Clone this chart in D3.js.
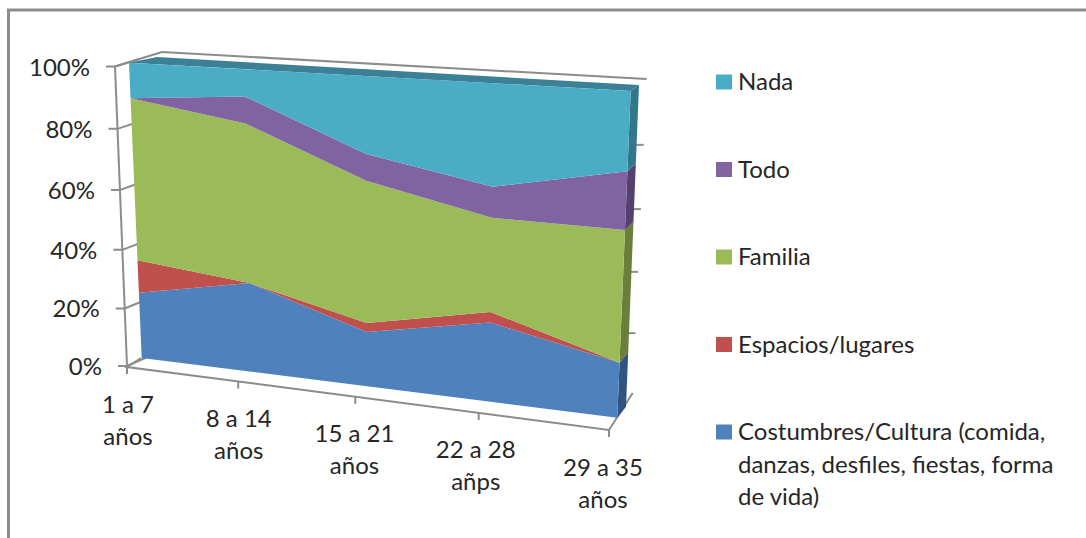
<!DOCTYPE html>
<html>
<head>
<meta charset="utf-8">
<script src="https://cdn.jsdelivr.net/npm/d3@7"></script>
<style>
  body { margin: 0; background: #fff; }
  svg { display: block; }
  text { font-family: Lato, "Open Sans", sans-serif; fill: #262626; font-size: 24px; }
</style>
</head>
<body>
<div id="datavis"></div>
<script>
// data (% of each age group)
let categories = ["1 a 7 años", "8 a 14 años", "15 a 21 años", "22 a 28 añps", "29 a 35 años"]
let costumbres = [23, 30.4, 18.3, 25.9, 17.6]
let espacios = [11.2, 0, 3, 3.4, 0]
let familia = [54.3, 52.4, 46.1, 29.8, 41.2]
let todo = [0, 8.6, 8.5, 9.6, 17.7]
let nada = [11.5, 8.6, 24.1, 31.3, 23.5]
let seriesNames = ["Costumbres/Cultura (comida, danzas, desfiles, fiestas, forma de vida)", "Espacios/lugares", "Familia", "Todo", "Nada"]
let seriesValues = [costumbres, espacios, familia, todo, nada]
let yTicks = [0, 20, 40, 60, 80, 100]

let colors = ["#4f81bd", "#c0504d", "#9bbb59", "#8064a2", "#4bacc6"]
let sideColors = ["#30537f", "#823432", "#697f3a", "#54416f", "#33778a"]
let topColor = "#3b8096"
let axisColor = "#8c8c8c"

let width = 1086
    height = 538

let svg = d3.select('#datavis')
    .append('svg')
        .attr('width', width)
        .attr('height', height)

// square -> quad projection, this is what fakes the excel 3d look
function quad(tl, tr, br, bl) {
  let dx1 = tr[0] - br[0], dx2 = bl[0] - br[0], sx = tl[0] - tr[0] + br[0] - bl[0]
  let dy1 = tr[1] - br[1], dy2 = bl[1] - br[1], sy = tl[1] - tr[1] + br[1] - bl[1]
  let den = dx1 * dy2 - dx2 * dy1
  let g = (sx * dy2 - dx2 * sy) / den
  let h = (dx1 * sy - sx * dy1) / den
  let a = tr[0] - tl[0] + g * tr[0], b = bl[0] - tl[0] + h * bl[0]
  let d = tr[1] - tl[1] + g * tr[1], e = bl[1] - tl[1] + h * bl[1]
  return function(u, v) {
    let w = g * u + h * v + 1
    return [(a * u + b * v + tl[0]) / w, (d * u + e * v + tl[1]) / w]
  }
}

function lerp(a, b, t) { return [a[0] + (b[0] - a[0]) * t, a[1] + (b[1] - a[1]) * t] }

let xScale = d3.scalePoint().domain(categories).range([0, 1])
let yScale = d3.scaleLinear().domain([0, 100]).range([1, 0])

let front = quad([129, 62.7], [630.7, 91], [617.3, 417.7], [141.7, 358])
let back = quad([157, 57], [639, 85], [626, 406.7], [168, 349])
let backWall = quad([162, 52], [646.7, 79], [632.7, 393], [175, 345])

// the axes are not on the front plane but they keep its spacing
function leftAxis(d) {
  let a = front(0, 0)[1], b = front(0, 1)[1]
  return lerp([115, 66.5], [127, 366], (front(0, yScale(d))[1] - a) / (b - a))
}
function floorLine(c) {
  let a = front(0, 1)[0], b = front(1, 1)[0]
  return lerp([127, 367], [609, 430], (front(xScale(c), 1)[0] - a) / (b - a))
}

let rows = categories.map((c, i) => {
  let row = {cat: c}
  seriesNames.forEach((s, j) => { row[s] = seriesValues[j][i] })
  return row
})
let stacked = d3.stack().keys(seriesNames)(rows)

let line = d3.line()

let axes = svg.append('g')
    .attr('fill', 'none')
    .attr('stroke', axisColor)
    .attr('stroke-width', 2)

// frame round the chart
svg.append('path')
    .attr('d', line([[8.5, height], [8.5, 10], [width, 10]]))
    .attr('fill', 'none')
    .attr('stroke', axisColor)
    .attr('stroke-width', 3)

// left axis + wall stubs
axes.append('path').attr('d', line([leftAxis(100), leftAxis(0)]))
axes.append('path').attr('d', line([leftAxis(100), backWall(0, 0)]))
axes.selectAll('.ystub')
  .data(yTicks)
  .enter()
  .append('path')
    .attr('d', d => {
      let p = leftAxis(d)
      return line([[p[0] - 9, p[1]], p, lerp(p, backWall(0, yScale(d)), 0.5)])
    })

// back wall top edge and the stubs on its right side
axes.append('path').attr('d', line([backWall(0, 0), backWall(1, 0)]))
axes.selectAll('.rstub')
  .data(yTicks.slice(1, -1))
  .enter()
  .append('path')
    .attr('d', d => {
      let p = backWall(1, yScale(d))
      return line([[p[0] - 14, p[1]], p])
    })

// floor
axes.append('path').attr('d', line([[141, 358], [127, 367], [609, 430], backWall(1, 1)]))
axes.selectAll('.xtick')
  .data(categories)
  .enter()
  .append('path')
    .attr('d', d => {
      let p = floorLine(d)
      return line([p, [p[0], p[1] + 7]])
    })

// right side of the solid, one piece per series
svg.selectAll('.side')
  .data(stacked)
  .enter()
  .append('path')
    .attr('fill', (d, i) => sideColors[i])
    .attr('d', d => {
      let last = d[d.length - 1]
      let y0 = yScale(last[0]), y1 = yScale(last[1])
      return line([front(1, y0), back(1, y0), back(1, y1), front(1, y1)]) + 'Z'
    })

// top of the solid
svg.append('path')
    .attr('fill', topColor)
    .attr('d', line([front(0, 0), back(0, 0), back(1, 0), front(1, 0)]) + 'Z')

// front faces
let area = d3.area()
  .x0(d => front(xScale(d.data.cat), yScale(d[0]))[0])
  .y0(d => front(xScale(d.data.cat), yScale(d[0]))[1])
  .x1(d => front(xScale(d.data.cat), yScale(d[1]))[0])
  .y1(d => front(xScale(d.data.cat), yScale(d[1]))[1])

svg.selectAll('.layer')
  .data(stacked)
  .enter()
  .append('path')
    .attr('d', area)
    .attr('fill', (d, i) => colors[i])

// y labels
svg.selectAll('.ylabel')
  .data(yTicks)
  .enter()
  .append('text')
    .text(d => d + '%')
    .attr('x', d => leftAxis(d)[0] - 25)
    .attr('y', d => leftAxis(d)[1] + 9)
    .attr('text-anchor', 'end')

// x labels, two lines each
svg.selectAll('.xlabel')
  .data(categories)
  .enter()
  .append('text')
    .attr('text-anchor', 'middle')
    .each(function(d) {
      let p = floorLine(d)
      let u = xScale(d)
      let words = d.split(' ')
      let lines = [words.slice(0, -1).join(' '), words[words.length - 1]]
      d3.select(this).selectAll('tspan')
        .data(lines)
        .enter()
        .append('tspan')
          .attr('x', p[0] + 1 - 7 * u * u)
          .attr('y', (l, i) => p[1] + 45.5 + i * 32)
          .text(l => l)
    })

// legend, same order as the picture (top series first)
let legendY = d3.scalePoint().domain(seriesNames.slice().reverse()).range([74.5, 424.5])
let legendLines = {}
legendLines[seriesNames[0]] = ["Costumbres/Cultura (comida,", "danzas, desfiles, fiestas, forma", "de vida)"]

let legend = svg.selectAll('.legend')
  .data(seriesNames)
  .enter()
  .append('g')
    .attr('transform', d => `translate(716,${legendY(d)})`)

legend.append('rect')
    .attr('width', 16)
    .attr('height', 15)
    .attr('fill', (d, i) => colors[i])

legend.append('text')
    .selectAll('tspan')
    .data(d => legendLines[d] || [d])
    .enter()
    .append('tspan')
      .attr('x', 22)
      .attr('y', (l, i) => 15.5 + i * 32.5)
      .text(l => l)
</script>
</body>
</html>
